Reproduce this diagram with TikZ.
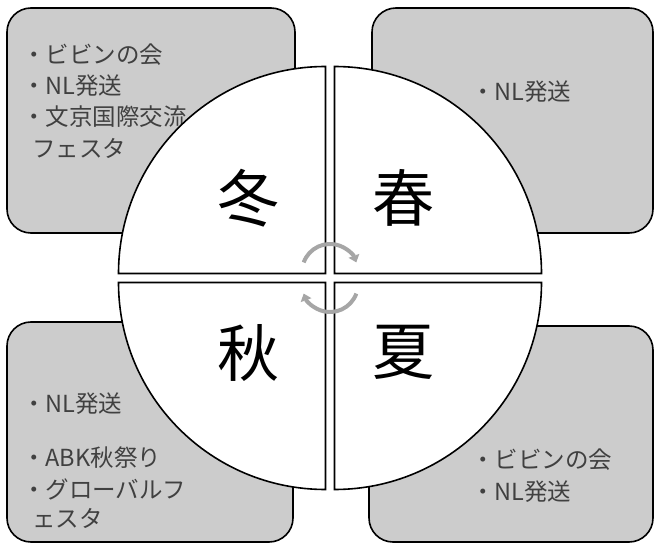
\documentclass[tikz,border=0pt]{standalone}
\usepackage{fontspec}
\setmainfont{Noto Sans CJK JP}
\usetikzlibrary{arrows.meta}

\tikzset{
  box/.style={draw=black,line width=1.6pt,fill=gray!40,rounded corners=24pt},
  quad/.style={draw=black,line width=1.6pt,fill=white},
  item/.style={anchor=west,inner sep=0pt,text=black!75,font=\fontsize{23.5}{23.5}\selectfont},
  season/.style={inner sep=0pt,font=\fontsize{62}{62}\selectfont},
  cyc/.style={draw=gray!70,line width=4pt,-{Triangle[length=7pt,width=11pt]}}
}

\begin{document}
\begin{tikzpicture}[x=1pt,y=-1pt]
\useasboundingbox (0,0) rectangle (656,545);

% the four boxes
\draw[box] (7,8) rectangle (295,233);
\draw[box] (372,8) rectangle (653,233);
\draw[box] (7,322) rectangle (293,542);
\draw[box] (369,326) rectangle (653,542);

% what happens in each season
\node[item] (fuyu1) at (22,55) {・ビビンの会};
\node[item] (fuyu2) at (22,86) {・NL発送};
\node[item] (fuyu3) at (22,117) {・文京国際交流};
\node[item] (fuyu4) at (32,148) {フェスタ};

\node[item] (haru1) at (471,92) {・NL発送};

\node[item] (natsu1) at (471,460) {・ビビンの会};
\node[item] (natsu2) at (471,492) {・NL発送};

\node[item] (aki1) at (22,404) {・NL発送};
\node[item] (aki2) at (22,458) {・ABK秋祭り};
\node[item] (aki3) at (22,489) {・グローバルフ};
\node[item] (aki4) at (32,518) {ェスタ};

% circle in four quarters
\foreach \sx/\sy/\a in {-1/-1/180,1/-1/270,1/1/0,-1/1/90}
  \draw[quad] ({330+4.5*\sx},{278+4.5*\sy}) -- ++(\a:207)
    arc[start angle=\a,delta angle=90,radius=207] -- cycle;

\node[season] (fuyu) at (248,198) {冬};
\node[season] (haru) at (403,198) {春};
\node[season] (aki) at (248,353) {秋};
\node[season] (natsu) at (403,352) {夏};

% cycle arrows in the middle
\draw[cyc] (330,272) ++(200:28) arc[start angle=200,delta angle=140,radius=28];
\draw[cyc] (330,284) ++(20:28) arc[start angle=20,delta angle=140,radius=28];

\end{tikzpicture}
\end{document}
